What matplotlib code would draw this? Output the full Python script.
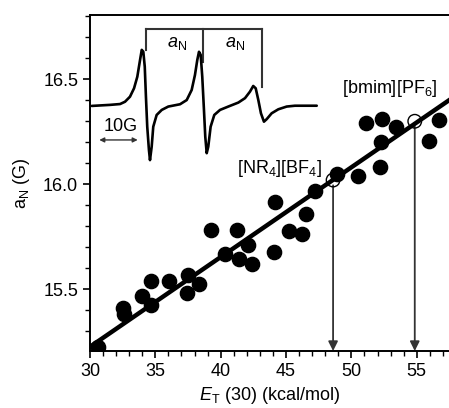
import numpy as np
import matplotlib
matplotlib.use("Agg")
import matplotlib.pyplot as plt
from matplotlib.ticker import MultipleLocator

plt.rcParams['font.family'] = ['Liberation Sans', 'DejaVu Sans']
plt.rcParams['mathtext.fontset'] = 'custom'
plt.rcParams['mathtext.rm'] = 'Liberation Sans'
plt.rcParams['mathtext.it'] = 'Liberation Sans:italic'

# solvent data: E_T(30) vs a_N
et = [30.64, 32.5, 32.6, 33.95, 34.64, 34.64, 36.05, 37.53, 37.45, 38.34,
      39.23, 40.35, 41.27, 41.42, 42.09, 42.39, 44.08, 44.13, 45.25, 46.22,
      46.5, 47.24, 48.92, 50.48, 51.12, 52.32, 52.24, 52.19, 53.39, 55.94, 56.73]
an = [15.226, 15.41, 15.38, 15.467, 15.538, 15.427, 15.54, 15.57, 15.48, 15.527,
      15.78, 15.67, 15.78, 15.646, 15.713, 15.62, 15.678, 15.916, 15.778, 15.765,
      15.86, 15.967, 16.05, 16.04, 16.294, 16.313, 16.2, 16.08, 16.273, 16.205, 16.305]

# ionic liquids (open circles)
il_names = [r'$\mathregular{[NR_4][BF_4]}$', r'$\mathregular{[bmim][PF_6]}$']
il_et = [48.6, 54.85]
il_an = [16.02, 16.30]

# linear fit
fit_x = [30.0, 57.47]
fit_y = [15.226, 16.40]

# ESR spectrum inset, traced in data units of the main axes
spec_x = [30.13, 31.53, 32.30, 32.68, 33.06, 33.37, 33.62, 33.83, 33.96, 34.08,
          34.19, 34.28, 34.38, 34.51, 34.59, 34.72, 34.84, 35.10, 35.49, 35.99,
          36.89, 37.40, 37.78, 38.03, 38.21, 38.34, 38.47, 38.59, 38.72, 38.82,
          38.93, 39.05, 39.23, 39.51, 39.95, 40.58,
          41.35, 41.86, 42.24, 42.49, 42.68, 42.88, 43.08, 43.31, 43.52, 43.90,
          44.41, 45.05, 45.68, 47.35]
spec_y = [16.373, 16.378, 16.382, 16.393, 16.417, 16.457, 16.512, 16.592, 16.640, 16.631,
          16.560, 16.417, 16.274, 16.163, 16.115, 16.179, 16.274, 16.330, 16.354, 16.370,
          16.381, 16.401, 16.449, 16.520, 16.592, 16.631, 16.616, 16.512, 16.354, 16.227,
          16.148, 16.179, 16.274, 16.330, 16.354, 16.370,
          16.389, 16.410, 16.441, 16.468, 16.457, 16.401, 16.338, 16.298, 16.310, 16.338,
          16.357, 16.370, 16.374, 16.374]

# hyperfine bracket
br_x = [34.26, 38.67, 43.13]
br_bottom = [16.64, 16.584, 16.462]
br_top = 16.74

fig = plt.figure(figsize=(4.49, 4.08), dpi=100)
ax = fig.add_axes([90 / 449, 57 / 408, 359 / 449, 336 / 408])

ax.plot(fit_x, fit_y, color='black', lw=3.2, zorder=3)
ax.scatter(et, an, s=105, color='black', zorder=4)
ax.scatter(il_et, il_an, s=95, facecolor='none', edgecolor='black', lw=1.0, zorder=5)

for x0, y0 in zip(il_et, il_an):
    ax.annotate('', xy=(x0, 15.206), xytext=(x0, y0 - 0.025),
                arrowprops=dict(arrowstyle='-|>', color='#333333', lw=1.3,
                                mutation_scale=14, shrinkA=0, shrinkB=0),
                zorder=2)

ax.text(44.54, 16.075, il_names[0], fontsize=13, ha='center', va='center')
ax.text(52.95, 16.457, il_names[1], fontsize=13, ha='center', va='center')

# inset spectrum
ax.plot(spec_x, spec_y, color='black', lw=1.9, zorder=3,
        solid_joinstyle='round', solid_capstyle='round')
ax.plot([br_x[0], br_x[-1]], [br_top, br_top], color='#333333', lw=1.5)
for bx, bb in zip(br_x, br_bottom):
    ax.plot([bx, bx], [bb, br_top], color='#333333', lw=1.5)
ax.text(36.63, 16.671, r'$a_\mathregular{N}$', fontsize=13, ha='center', va='center')
ax.text(41.09, 16.671, r'$a_\mathregular{N}$', fontsize=13, ha='center', va='center')
ax.text(32.35, 16.275, '10G', fontsize=13, ha='center', va='center')
ax.annotate('', xy=(30.71, 16.211), xytext=(33.65, 16.211),
            arrowprops=dict(arrowstyle='<|-|>', color='#333333', lw=1.0,
                            mutation_scale=7, shrinkA=0, shrinkB=0))

ax.set_xlim(30, 57.47)
ax.set_ylim(15.206, 16.806)
ax.xaxis.set_major_locator(MultipleLocator(5))
ax.xaxis.set_minor_locator(MultipleLocator(1))
ax.yaxis.set_major_locator(MultipleLocator(0.5))
ax.yaxis.set_minor_locator(MultipleLocator(0.1))
ax.yaxis.set_major_formatter(plt.FormatStrFormatter('%.1f'))
ax.tick_params(which='major', direction='out', length=5, width=1.2, labelsize=13)
ax.tick_params(which='minor', direction='out', length=3.5, width=1.0)
ax.spines['right'].set_visible(False)
for s in ['left', 'bottom', 'top']:
    ax.spines[s].set_linewidth(1.4)

ax.set_xlabel(r'$E_\mathregular{T}$ (30) (kcal/mol)', fontsize=13, labelpad=4)
ax.set_ylabel(r'$\mathregular{a_N}$ (G)', fontsize=13, labelpad=8)

fig.savefig('out.png', dpi=100)
